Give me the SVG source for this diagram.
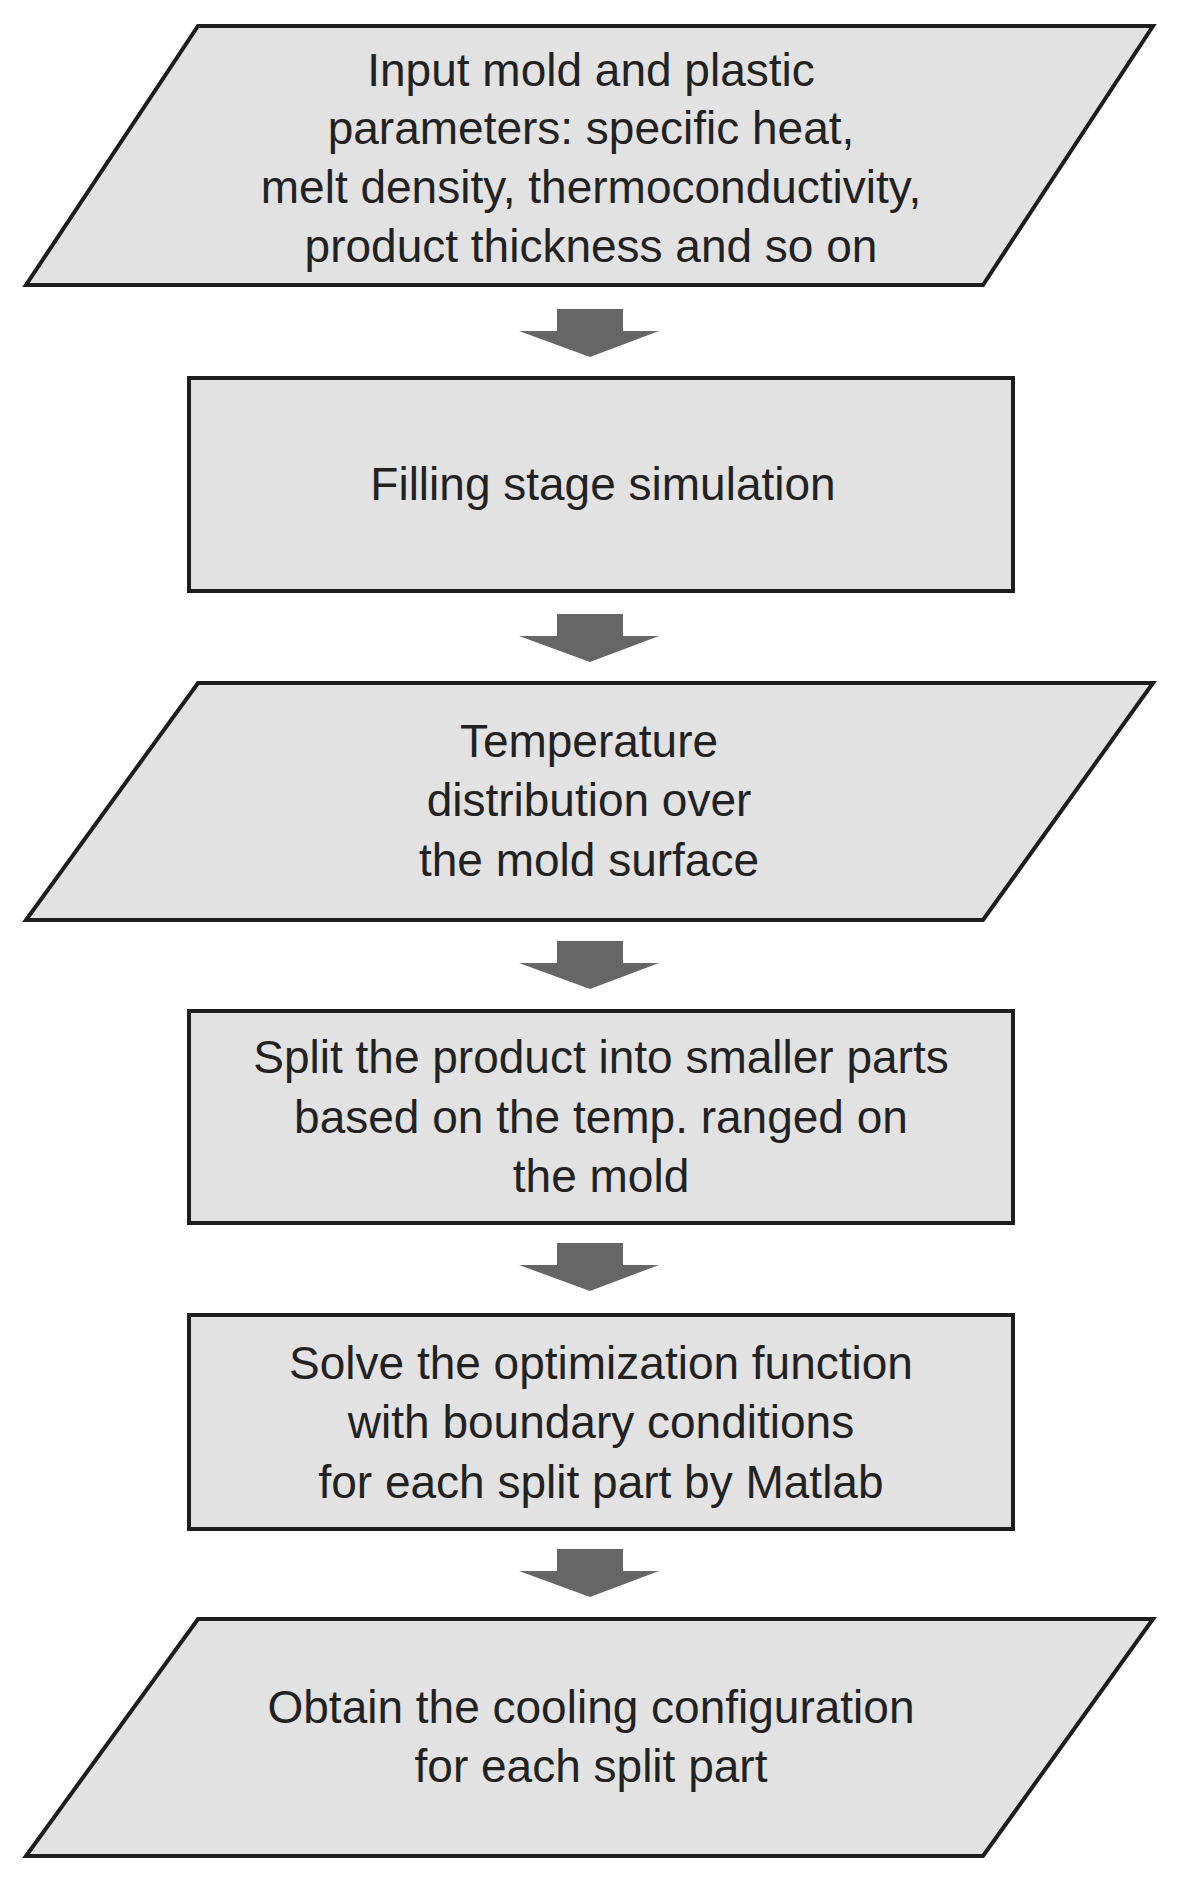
<svg xmlns="http://www.w3.org/2000/svg" width="1181" height="1885" viewBox="0 0 1181 1885">
<style>
.n{fill:#e2e2e2;stroke:#1e1e1e;stroke-width:4;stroke-linejoin:miter}
.t{font-family:"Liberation Sans",Arial,sans-serif;font-size:46px;fill:#222;text-anchor:middle}
.a{fill:#666}
</style>
<rect width="1181" height="1885" fill="#fff"/>
<g id="n1"><polygon class="n" points="198,26 1153,26 983,285 26,285"/>
<text class="t" x="591" y="86">Input mold and plastic</text>
<text class="t" x="591" y="144">parameters: specific heat,</text>
<text class="t" x="591" y="203">melt density, thermoconductivity,</text>
<text class="t" x="591" y="262">product thickness and so on</text></g>
<g id="n2"><rect class="n" x="189" y="378" width="824" height="213"/>
<text class="t" x="603" y="500">Filling stage simulation</text></g>
<g id="n3"><polygon class="n" points="198,683 1153,683 983,920 26,920"/>
<text class="t" x="589" y="757">Temperature</text>
<text class="t" x="589" y="816">distribution over</text>
<text class="t" x="589" y="876">the mold surface</text></g>
<g id="n4"><rect class="n" x="189" y="1011" width="824" height="212"/>
<text class="t" x="601" y="1073">Split the product into smaller parts</text>
<text class="t" x="601" y="1133">based on the temp. ranged on</text>
<text class="t" x="601" y="1192">the mold</text></g>
<g id="n5"><rect class="n" x="189" y="1315" width="824" height="214"/>
<text class="t" x="601" y="1379">Solve the optimization function</text>
<text class="t" x="601" y="1438">with boundary conditions</text>
<text class="t" x="601" y="1498">for each split part by Matlab</text></g>
<g id="n6"><polygon class="n" points="198,1619 1153,1619 983,1856 26,1856"/>
<text class="t" x="591" y="1723">Obtain the cooling configuration</text>
<text class="t" x="591" y="1782">for each split part</text></g>
<g id="connectors">
<defs><path id="ar" d="M557,0 H623 V22 H659 L590,48 L519,22 H557 Z"/></defs>
<use href="#ar" class="a" y="309"/>
<use href="#ar" class="a" y="614"/>
<use href="#ar" class="a" y="941"/>
<use href="#ar" class="a" y="1243"/>
<use href="#ar" class="a" y="1549"/>
</g>
</svg>
